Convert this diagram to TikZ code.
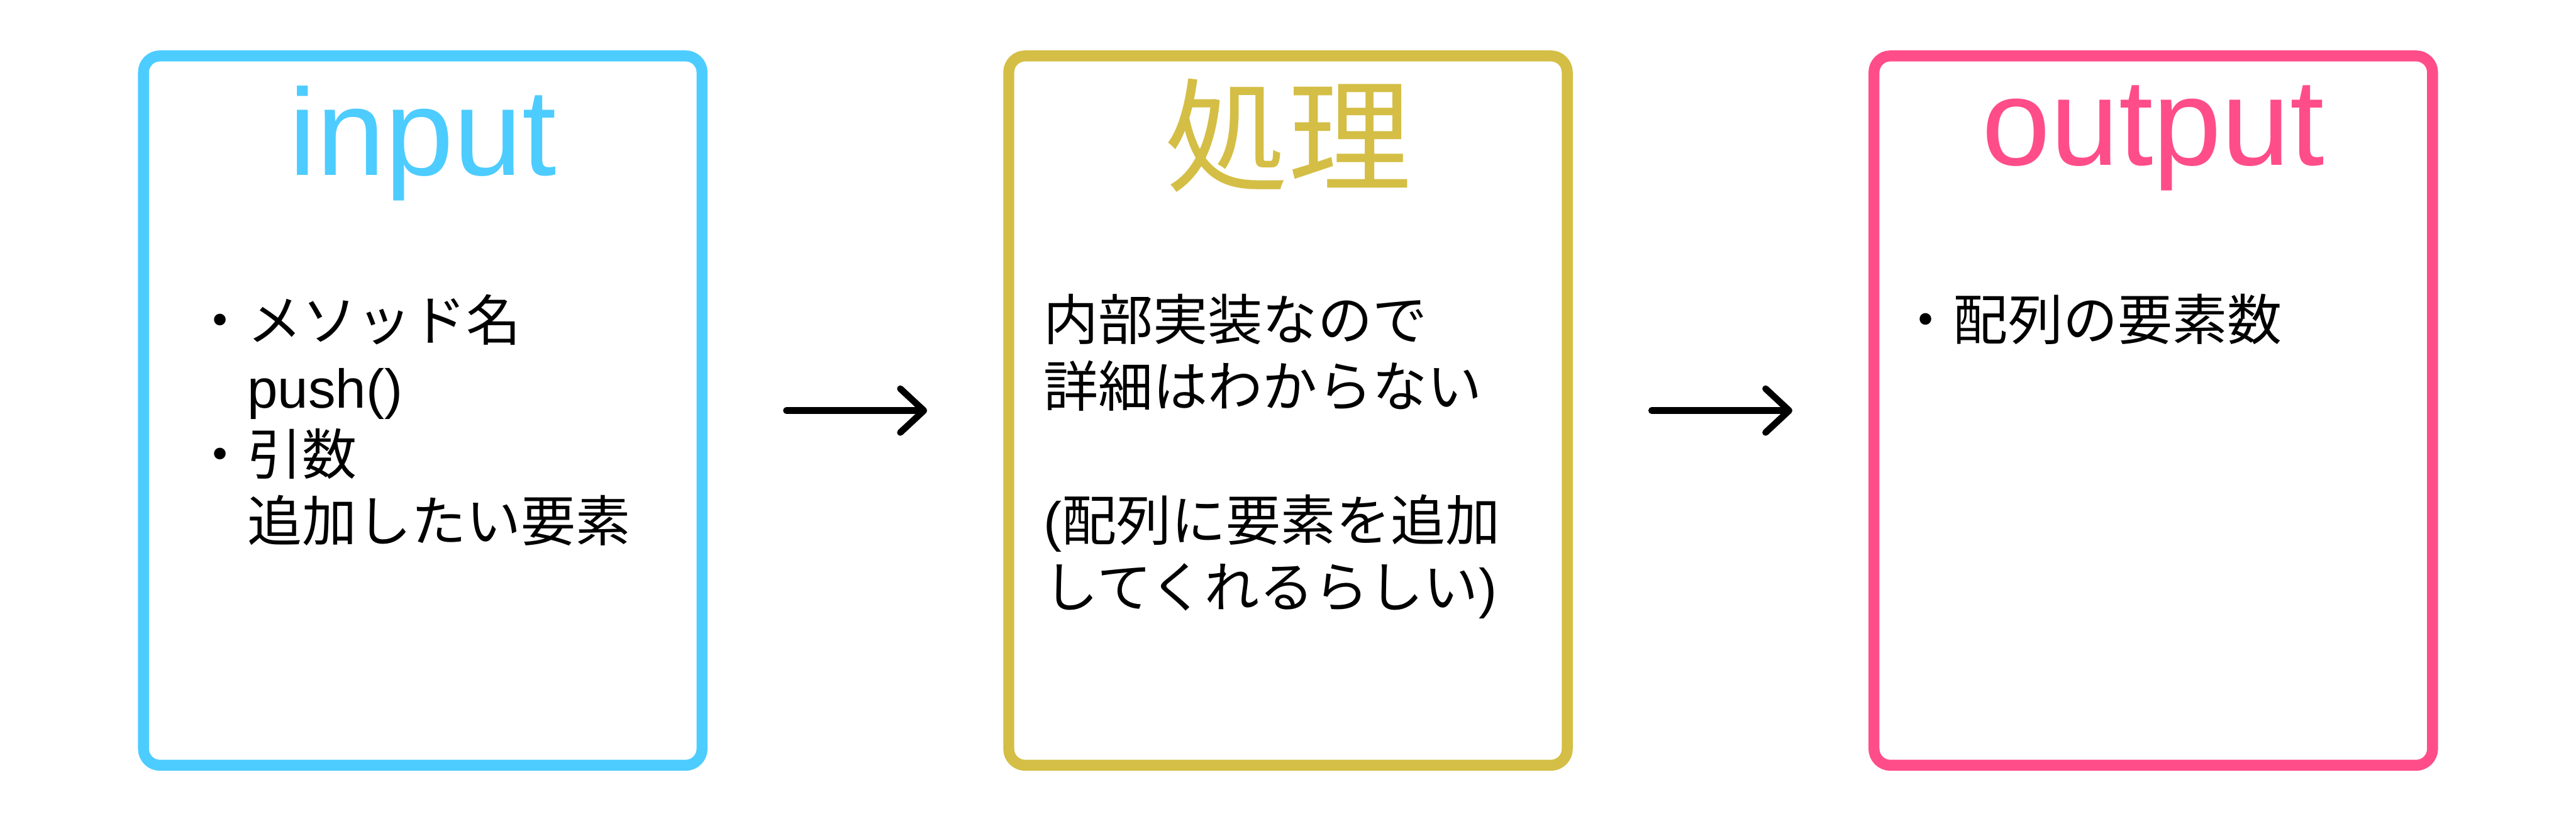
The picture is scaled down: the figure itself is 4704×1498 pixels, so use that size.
\documentclass[tikz,border=0pt]{standalone}
\usepackage{fontspec}
\setmainfont{Noto Sans CJK JP}
\newfontfamily\lat{Liberation Sans}
\usetikzlibrary{arrows.meta}
\definecolor{cin}{HTML}{4DCCFF}
\definecolor{cproc}{HTML}{D4BE45}
\definecolor{cout}{HTML}{FF4D8A}
\begin{document}
\begin{tikzpicture}[x=0.1pt,y=-0.1pt,
  frame/.style={draw=#1, line width=2pt, rounded corners=3pt, minimum width=102pt, minimum height=129.5pt, inner sep=0pt},
  title/.style={text=#1, font=\fontsize{22.5pt}{26pt}\selectfont, anchor=base, inner sep=0pt},
  body/.style={font=\fontsize{10pt}{12.2pt}\selectfont, align=left, anchor=north west, inner sep=0pt, text=black},
  flow/.style={line width=1.2pt, line cap=round, -{Straight Barb[length=4.3pt,width=8pt,round]}}]
\useasboundingbox[fill=white] (0,0) rectangle (4704,1498);
\node[frame=cin] (inbox) at (772,749.5) {};
\node[frame=cproc] (procbox) at (2352,749.5) {};
\node[frame=cout] (outbox) at (3932,749.5) {};
\node[title=cin] (intitle) at (772,320) {\lat input};
\node[title=cproc] (proctitle) at (2352,332) {処理};
\node[title=cout] (outtitle) at (3932,301) {\lat output};
\node[body] (intext) at (350,536) {・メソッド名\\　{\lat push()}\\・引数\\　追加したい要素};
\node[body] (proctext) at (1904,535) {内部実装なので\\詳細はわからない\\[12.2pt]{\lat (}配列に要素を追加\\してくれるらしい{\lat )}};
\node[body] (outtext) at (3465,535) {・配列の要素数};
\draw[flow] ([xshift=14.4pt]inbox.east) -- ([xshift=-13.9pt]procbox.west);
\draw[flow] ([xshift=14.4pt]procbox.east) -- ([xshift=-13.9pt]outbox.west);
\end{tikzpicture}
\end{document}
